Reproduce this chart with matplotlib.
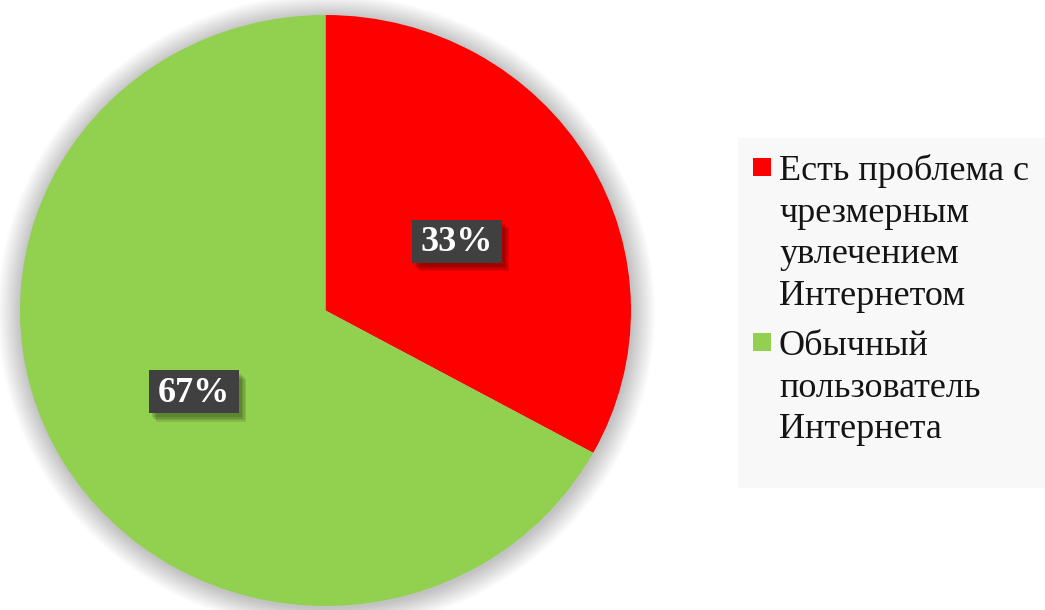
import matplotlib
matplotlib.use("Agg")
import matplotlib.pyplot as plt
from matplotlib.patches import Ellipse, Rectangle
import matplotlib.patheffects as pe

categories = ["Есть проблема с\nчрезмерным\nувлечением\nИнтернетом",
              "Обычный\nпользователь\nИнтернета"]
values = [33, 67]
colors = ["#FF0000", "#92D050"]

W, H = 1045, 610
fig = plt.figure(figsize=(W / 100, H / 100), dpi=100)
fig.patch.set_facecolor("white")

# pie axes (slightly elliptical like the reference)
px0, px1, py0, py1 = 20, 631, 15, 606
aw, ah = px1 - px0, py1 - py0
ax = fig.add_axes([px0 / W, (H - py1) / H, aw / W, ah / H])

# soft shadow behind the pie
n = 20
for i in range(n):
    s = 1.0 + 0.0038 * (n - i)
    ax.add_patch(Ellipse((0.003, -0.006), 2 * s, 2 * s, facecolor="#000000",
                         alpha=0.013, edgecolor="none", zorder=0, clip_on=False))

wedges, texts, autotexts = ax.pie(
    values, colors=colors, startangle=90, counterclock=False,
    autopct=lambda p: f"{p:.0f}%", pctdistance=0.5,
    wedgeprops=dict(linewidth=0),
    textprops=dict(family="Liberation Serif", fontsize=26, fontweight="bold",
                   color="white"))
for w in wedges:
    w.set_zorder(2)
ax.set_aspect("auto")
ax.set_xlim(-1, 1)
ax.set_ylim(-1, 1)
ax.axis("off")

# label boxes: dark rectangles with soft shadow
px2ax_x = 2 / aw
px2ax_y = 2 / ah
bw, bh = 90 * px2ax_x, 43 * px2ax_y
shadow = [pe.SimplePatchShadow(offset=(o, -o - 1), shadow_rgbFace="black", alpha=0.1)
          for o in (2, 3, 4, 5)]
for t in autotexts:
    x, y = t.get_position()
    yc = y - 6 * px2ax_y
    t.set_position((x, yc - 10 * px2ax_y))
    t.set_va("baseline")
    t.set_zorder(5)
    r = Rectangle((x - bw / 2, yc - bh / 2), bw, bh,
                  facecolor="#404040", edgecolor="none", zorder=4)
    r.set_path_effects(shadow + [pe.Normal()])
    ax.add_patch(r)

# legend panel
fig.patches.append(Rectangle((738 / W, (H - 488) / H), (W - 738) / W, 350 / H,
                             transform=fig.transFigure, facecolor="#F8F8F8",
                             edgecolor="none", zorder=0))

text_x = 779 / W
marker_x = 753 / W
msize_w, msize_h = 18 / W, 18 / H
first_baselines = [180, 355]
line_step = 41.7
for cat, col, b0 in zip(categories, colors, first_baselines):
    fig.patches.append(Rectangle((marker_x, (H - b0 + 4) / H), msize_w, msize_h,
                                 transform=fig.transFigure, facecolor=col,
                                 edgecolor="none", zorder=2))
    for i, line in enumerate(cat.split("\n")):
        fig.text(text_x, (H - (b0 + i * line_step)) / H, line, ha="left",
                 va="baseline", family="Liberation Serif", fontsize=26,
                 color="#141414")

fig.savefig("out.png", dpi=100)
